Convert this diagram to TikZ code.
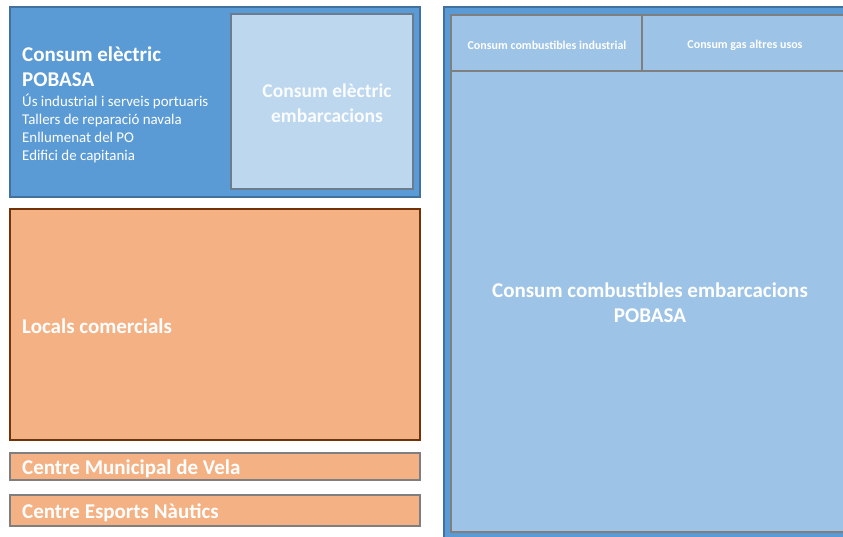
\documentclass[tikz,border=0pt]{standalone}
\usepackage{fontspec}
\setmainfont{Carlito}
\definecolor{bluemain}{HTML}{5B9BD5}
\definecolor{blueedge}{HTML}{41719C}
\definecolor{bluelight}{HTML}{BDD7EE}
\definecolor{bluemid}{HTML}{9DC3E6}
\definecolor{orangefill}{HTML}{F4B183}
\definecolor{brownedge}{HTML}{843C0C}
\definecolor{greyedge}{HTML}{7F7F7F}
\definecolor{slateedge}{HTML}{6A7C8E}
\tikzset{
  panel/.style={draw, line width=1.3pt, anchor=north west, inner sep=0pt, outer sep=0pt},
  label/.style={text=white, font=\bfseries, inner sep=0pt},
  bigbold/.style={font=\bfseries\fontsize{21}{25}\selectfont},
  body/.style={text=white, anchor=base west, inner sep=0pt, font=\fontsize{14.9}{18}\selectfont},
}
\begin{document}
\begin{tikzpicture}[x=1pt,y=-1pt]
\useasboundingbox (0,0) rectangle (843,537);
% top-left blue panel
\node[panel, draw=blueedge, fill=bluemain, minimum width=410pt, minimum height=190pt] (pobasa) at (10,7) {};
\node[panel, draw=slateedge, fill=bluelight, minimum width=182pt, minimum height=175pt] (embel) at (231,14) {};
\node[label, bigbold, anchor=base west] (t1a) at (22,61.5) {Consum elèctric};
\node[label, bigbold, anchor=base west] (t1b) at (22,86.5) {POBASA};
\node[body] (l1) at (22,107) {Ús industrial i serveis portuaris};
\node[body] (l2) at (22,125) {Tallers de reparació navala};
\node[body] (l3) at (22,143) {Enllumenat del PO};
\node[body] (l4) at (22,161) {Edifici de capitania};
\node[label, text=white!92!bluelight, font=\bfseries\fontsize{19.5}{25}\selectfont, align=center] (t3) at (327,103) {Consum elèctric\\embarcacions};
% orange panels
\node[panel, draw=brownedge!85!black, fill=orangefill, minimum width=410pt, minimum height=231pt] (locals) at (10,209) {};
\node[label, bigbold, anchor=west] (t4) at (22,326) {Locals comercials};
\node[panel, draw=greyedge, fill=orangefill, minimum width=410pt, minimum height=27pt] (vela) at (10,453) {};
\node[label, bigbold, anchor=west] (t5) at (22,468.5) {Centre Municipal de Vela};
\node[panel, draw=greyedge, fill=orangefill, minimum width=410pt, minimum height=31pt] (nautics) at (10,495) {};
\node[label, bigbold, anchor=west] (t6) at (22,512.5) {Centre Esports Nàutics};
% right panel
\node[panel, draw=blueedge, fill=bluemain, minimum width=404pt, minimum height=536pt] (right) at (444,7) {};
\node[panel, draw=greyedge, fill=bluemid, minimum width=394pt, minimum height=461pt] (comb) at (451,71) {};
\node[panel, draw=greyedge, fill=bluemid, minimum width=191pt, minimum height=56pt] (ind) at (451,15) {};
\node[panel, draw=greyedge, fill=bluemid, minimum width=203pt, minimum height=56pt] (gas) at (642,15) {};
\node[label, font=\bfseries\fontsize{12}{14}\selectfont] (t7) at (547,45) {Consum combustibles industrial};
\node[label, font=\bfseries\fontsize{12}{14}\selectfont] (t8) at (745,45) {Consum gas altres usos};
\node[label, font=\bfseries\fontsize{21}{25}\selectfont, align=center] (t9) at (650,303) {Consum combustibles embarcacions\\POBASA};
\end{tikzpicture}
\end{document}
